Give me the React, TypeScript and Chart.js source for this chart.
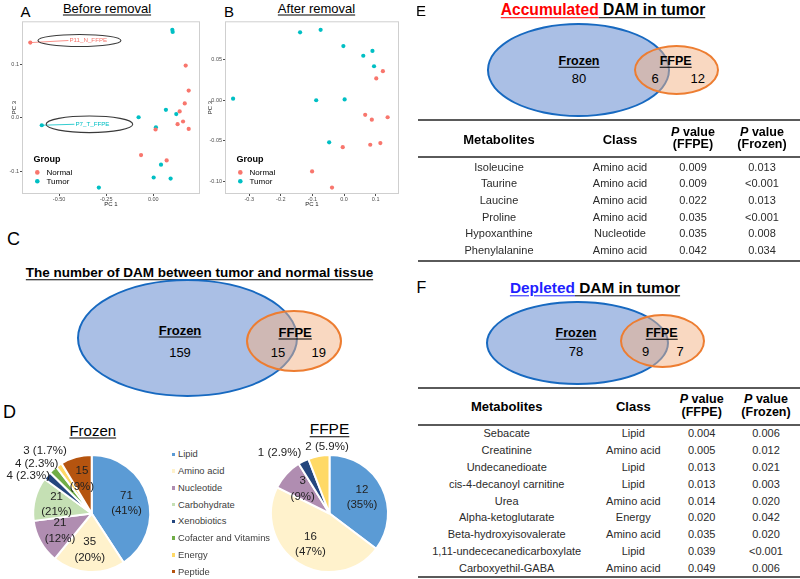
import React, { useEffect, useRef } from "react";
import { Chart, registerables } from "chart.js";
Chart.register(...registerables);

const FONT = '"Liberation Sans", Arial, Helvetica, sans-serif';

// ---------------- data ----------------
const groups = ["Normal", "Tumor"];
const groupColors = ["#F8766D", "#00BFC4"];

// A: before removal (PC1, PC3)
const beforeNormalPC1 = [-0.653, 0.172, 0.188, 0.167, 0.14, 0.158, 0.129, 0.188, 0.012, -0.065, 0.071];
const beforeNormalPC3 = [0.141, 0.098, 0.051, 0.027, 0.012, -0.007, -0.012, -0.021, -0.022, -0.07, -0.08];
const beforeTumorPC1 = [-0.592, 0.101, 0.103, 0.067, 0.122, -0.078, 0.014, 0.041, 0.002, 0.092, -0.289];
const beforeTumorPC3 = [-0.014, 0.165, 0.161, 0.015, 0.007, 0.001, -0.018, -0.088, -0.112, -0.114, -0.131];
const beforeXTicks = [-0.5, -0.25, 0.0];
const beforeYTicks = [-0.1, 0.0, 0.1];

// B: after removal (PC1, PC3)
const afterNormalPC1 = [0.123, 0.102, 0.067, 0.088, 0.138, -0.004, 0.083, 0.115, -0.101, -0.038];
const afterNormalPC3 = [0.036, 0.027, -0.018, -0.024, -0.021, -0.058, -0.055, -0.053, -0.088, -0.108];
const afterTumorPC1 = [-0.351, -0.139, -0.074, -0.002, 0.09, 0.061, 0.095, -0.088, 0.002, -0.047];
const afterTumorPC3 = [0.002, 0.084, 0.087, 0.067, 0.061, 0.055, 0.042, 0.0, 0.001, -0.052];
const afterXTicks = [-0.3, -0.2, -0.1, 0.0, 0.1];
const afterYTicks = [-0.1, -0.05, 0.0, 0.05];

// D: metabolite classes
const classes = ["Lipid", "Amino acid", "Nucleotide", "Carbohydrate", "Xenobiotics", "Cofacter and Vitamins", "Energy", "Peptide"];
const classColors = ["#5B9BD5", "#FFF2CC", "#B08DB1", "#C5E0B4", "#24467E", "#70AD47", "#FFD966", "#B5540F"];
const frozenCounts = [71, 35, 21, 21, 4, 4, 3, 15];
const frozenPct = ["41%", "20%", "12%", "21%", "2.3%", "2.3%", "1.7%", "9%"];
const ffpeCounts = [12, 16, 3, 0, 1, 0, 2, 0];
const ffpePct = ["35%", "47%", "9%", "", "2.9%", "", "5.9%", ""];

// Venn counts: [Frozen only, shared, FFPE only]
const vennAll = [159, 15, 19];
const vennUp = [80, 6, 12];
const vennDown = [78, 9, 7];

// E table
const accMetabolites = ["Isoleucine", "Taurine", "Laucine", "Proline", "Hypoxanthine", "Phenylalanine"];
const accClass = ["Amino acid", "Amino acid", "Amino acid", "Amino acid", "Nucleotide", "Amino acid"];
const accPFFPE = ["0.009", "0.009", "0.022", "0.035", "0.035", "0.042"];
const accPFrozen = ["0.013", "<0.001", "0.013", "<0.001", "0.008", "0.034"];

// F table
const depMetabolites = ["Sebacate", "Creatinine", "Undecanedioate", "cis-4-decanoyl carnitine", "Urea", "Alpha-ketoglutarate", "Beta-hydroxyisovalerate", "1,11-undececanedicarboxylate", "Carboxyethil-GABA"];
const depClass = ["Lipid", "Amino acid", "Lipid", "Lipid", "Amino acid", "Energy", "Amino acid", "Lipid", "Amino acid"];
const depPFFPE = ["0.004", "0.005", "0.013", "0.013", "0.014", "0.020", "0.035", "0.039", "0.049"];
const depPFrozen = ["0.006", "0.012", "0.021", "0.003", "0.020", "0.042", "0.020", "<0.001", "0.006"];

// ---------------- helpers ----------------
function T({ x, y, s, b, c, u, a = "c", children, st }: any) {
  const tx = a === "c" ? "-50%" : a === "r" ? "-100%" : "0";
  return (
    <div
      style={{
        position: "absolute",
        left: x,
        top: y,
        fontSize: s,
        lineHeight: 1,
        fontWeight: b ? "bold" : "normal",
        color: c || "#000",
        textDecoration: u ? "underline" : "none",
        textUnderlineOffset: u ? "2px" : undefined,
        transform: `translate(${tx},-50%)`,
        whiteSpace: "nowrap",
        ...st,
      }}
    >
      {children}
    </div>
  );
}

function Scatter(props: any) {
  const { left, top, width, height, axisW, padRight, xs, ys, xMin, xMax, yMin, yMax, xTicks, yTicks, xDec, yDec, yTitlePad, annotations } = props;
  const ref = useRef<HTMLCanvasElement>(null);
  useEffect(() => {
    const panelPlugin = {
      id: "panelDecor",
      beforeDatasetsDraw(chart: any) {
        const { ctx, chartArea: a } = chart;
        ctx.save();
        ctx.strokeStyle = "#cfcfcf";
        ctx.lineWidth = 1;
        ctx.strokeRect(a.left + 0.5, a.top + 0.5, a.right - a.left - 1, a.bottom - a.top - 1);
        ctx.restore();
      },
      afterDatasetsDraw(chart: any) {
        const { ctx, chartArea: a, scales } = chart;
        ctx.save();
        (annotations || []).forEach((an: any) => {
          const p = chart.getDatasetMeta(an.ds).data[an.idx];
          const ex = scales.x.getPixelForValue(an.x);
          const ey = scales.y.getPixelForValue(an.y);
          const tx = ex + an.dx;
          ctx.strokeStyle = groupColors[an.ds];
          ctx.lineWidth = 0.8;
          ctx.beginPath();
          ctx.moveTo(p.x, p.y);
          ctx.lineTo(tx - 1, ey);
          ctx.stroke();
          ctx.strokeStyle = "#3a3a3a";
          ctx.lineWidth = 1.1;
          ctx.beginPath();
          ctx.ellipse(ex, ey, an.rx, an.ry, 0, 0, Math.PI * 2);
          ctx.stroke();
          ctx.fillStyle = groupColors[an.ds];
          ctx.font = `6.2px ${FONT}`;
          ctx.textBaseline = "middle";
          ctx.textAlign = "left";
          ctx.fillText(an.text, tx, ey + 0.3);
        });
        // legend inside panel
        ctx.fillStyle = "#000";
        ctx.textBaseline = "middle";
        ctx.textAlign = "left";
        ctx.font = `bold 9px ${FONT}`;
        ctx.fillText("Group", a.left + 11.5, a.bottom - 34);
        chart.data.datasets.forEach((ds: any, i: number) => {
          const y = a.bottom - 21.6 + i * 8.8;
          ctx.fillStyle = ds.backgroundColor;
          ctx.beginPath();
          ctx.arc(a.left + 15.3, y, 2.3, 0, Math.PI * 2);
          ctx.fill();
          ctx.fillStyle = "#000";
          ctx.font = `8px ${FONT}`;
          ctx.fillText(ds.label, a.left + 24.5, y + 0.3);
        });
        ctx.restore();
      },
    };
    const tickFont = { size: 5.5, family: FONT };
    const chart = new Chart(ref.current as HTMLCanvasElement, {
      type: "scatter",
      data: {
        datasets: groups.map((g, i) => ({
          label: g,
          data: xs[i].map((x: number, j: number) => ({ x, y: ys[i][j] })),
          backgroundColor: groupColors[i],
          borderColor: groupColors[i],
          borderWidth: 0,
          pointRadius: 2.1,
          pointHoverRadius: 2.1,
        })),
      },
      options: {
        animation: false,
        responsive: false,
        maintainAspectRatio: false,
        layout: { padding: { top: 2, right: padRight, left: 0, bottom: 0 } },
        plugins: { legend: { display: false }, tooltip: { enabled: false } },
        scales: {
          x: {
            type: "linear",
            min: xMin,
            max: xMax,
            afterFit: (s: any) => {
              s.height = 18;
            },
            afterBuildTicks: (s: any) => {
              s.ticks = xTicks.map((v: number) => ({ value: v }));
            },
            ticks: {
              font: tickFont,
              color: "#4d4d4d",
              padding: 0,
              maxRotation: 0,
              autoSkip: false,
              callback: (v: any) => Number(v).toFixed(xDec),
            },
            grid: { drawOnChartArea: false, drawTicks: true, tickLength: 2, color: "#4d4d4d" },
            border: { display: false },
            title: { display: true, text: "PC 1", font: { size: 6, family: FONT }, color: "#1a1a1a", padding: { top: 0, bottom: 4.4 } },
          },
          y: {
            type: "linear",
            min: yMin,
            max: yMax,
            afterFit: (s: any) => {
              s.width = axisW;
            },
            afterBuildTicks: (s: any) => {
              s.ticks = yTicks.map((v: number) => ({ value: v }));
            },
            ticks: {
              font: tickFont,
              color: "#4d4d4d",
              padding: 1,
              autoSkip: false,
              callback: (v: any) => Number(v).toFixed(yDec),
            },
            grid: { drawOnChartArea: false, drawTicks: true, tickLength: 2, color: "#4d4d4d" },
            border: { display: false },
            title: { display: true, text: "PC 3", font: { size: 6, family: FONT }, color: "#1a1a1a", padding: { top: yTitlePad, bottom: 0 } },
          },
        },
      } as any,
      plugins: [panelPlugin],
    });
    return () => chart.destroy();
  }, []);
  return <canvas ref={ref} width={width} height={height} style={{ position: "absolute", left, top, width, height }} />;
}

function Pie(props: any) {
  const { left, top, width, height, cx, cy, r, counts, pcts } = props;
  const ref = useRef<HTMLCanvasElement>(null);
  useEffect(() => {
    const total = counts.reduce((s: number, v: number) => s + v, 0);
    const labelPlugin = {
      id: "pieLabels",
      afterDatasetsDraw(chart: any) {
        const { ctx } = chart;
        const meta = chart.getDatasetMeta(0);
        ctx.save();
        ctx.font = `11.5px ${FONT}`;
        ctx.fillStyle = "#222";
        ctx.textAlign = "center";
        ctx.textBaseline = "middle";
        const outer: any[] = [];
        meta.data.forEach((arc: any, i: number) => {
          const v = counts[i];
          if (!v) return;
          const p = arc.getProps(["x", "y", "startAngle", "endAngle", "outerRadius"], true);
          const mid = (p.startAngle + p.endAngle) / 2;
          const dx = Math.cos(mid);
          const dy = Math.sin(mid);
          if (v / total >= 0.07) {
            const R = p.outerRadius * 0.62;
            const x = p.x + dx * R;
            const y = p.y + dy * R;
            ctx.fillText(String(v), x, y - 7.8);
            ctx.fillText(`(${pcts[i]})`, x, y + 7.8);
          } else {
            const text = `${v} (${pcts[i]})`;
            const w = ctx.measureText(text).width;
            const h = 12;
            const R = p.outerRadius + 3;
            const ax = p.x + dx * R;
            const ay = p.y + dy * R;
            outer.push({ text, w, h, dy, cx: ax + (dx * w) / 2, cy: ay + (dy * h) / 2 });
          }
        });
        const horizontal = outer.length > 0 && outer.every((o) => o.dy < -0.85);
        for (let it = 0; it < 60; it++) {
          outer.sort((a, b) => (horizontal ? a.cx - b.cx : a.cy - b.cy));
          for (let k = 0; k + 1 < outer.length; k++) {
            const a = outer[k];
            const b = outer[k + 1];
            if (horizontal) {
              const ov = a.cx + a.w / 2 + 4 - (b.cx - b.w / 2);
              if (ov > 0) {
                a.cx -= ov / 2;
                b.cx += ov / 2;
              }
            } else {
              const need = 12.5;
              const gap = b.cy - a.cy;
              const xo = Math.abs(a.cx - b.cx) < (a.w + b.w) / 2;
              if (xo && gap < need) {
                a.cy -= (need - gap) / 2;
                b.cy += (need - gap) / 2;
              }
            }
          }
        }
        outer.forEach((o) => ctx.fillText(o.text, o.cx, o.cy));
        ctx.restore();
      },
    };
    const half = r + 1;
    const chart = new Chart(ref.current as HTMLCanvasElement, {
      type: "pie",
      data: {
        labels: classes,
        datasets: [
          {
            data: counts,
            backgroundColor: classColors,
            borderColor: "#ffffff",
            borderWidth: 2,
            hoverBorderWidth: 2,
            hoverOffset: 0,
            offset: 0,
          },
        ],
      },
      options: {
        animation: false,
        responsive: false,
        maintainAspectRatio: false,
        layout: {
          padding: { left: cx - half, right: width - (cx + half), top: cy - half, bottom: height - (cy + half) },
        },
        plugins: { legend: { display: false }, tooltip: { enabled: false } },
      } as any,
      plugins: [labelPlugin],
    });
    return () => chart.destroy();
  }, []);
  return <canvas ref={ref} width={width} height={height} style={{ position: "absolute", left, top, width, height }} />;
}

function Ellipse({ l, t, w, h, fill, stroke }: any) {
  return (
    <div
      style={{
        position: "absolute",
        left: l,
        top: t,
        width: w,
        height: h,
        boxSizing: "border-box",
        borderRadius: "50%",
        border: `2px solid ${stroke}`,
        background: fill,
      }}
    />
  );
}

const BLUE_FILL = "#AABFE5";
const BLUE_STROKE = "#1769C0";
const OR_FILL = "rgba(244,177,131,0.5)";
const OR_STROKE = "#ED7D31";

function Venn({ blue, orange, frozenPos, ffpePos, counts, numY, sharedX, ffpeOnlyX, ls, ns }: any) {
  return (
    <>
      <Ellipse {...blue} fill={BLUE_FILL} stroke={BLUE_STROKE} />
      <Ellipse {...orange} fill={OR_FILL} stroke={OR_STROKE} />
      <T x={frozenPos[0]} y={frozenPos[1]} s={ls} b u>
        Frozen
      </T>
      <T x={frozenPos[0]} y={numY} s={ns}>
        {counts[0]}
      </T>
      <T x={ffpePos[0]} y={ffpePos[1]} s={ls} b u>
        FFPE
      </T>
      <T x={sharedX} y={numY} s={ns}>
        {counts[1]}
      </T>
      <T x={ffpeOnlyX} y={numY} s={ns}>
        {counts[2]}
      </T>
    </>
  );
}

function PHead({ x, y, sub }: any) {
  return (
    <div
      style={{
        position: "absolute",
        left: x,
        top: y,
        transform: "translate(-50%,-50%)",
        textAlign: "center",
        fontSize: 12.5,
        lineHeight: "12.7px",
        fontWeight: "bold",
        whiteSpace: "nowrap",
      }}
    >
      <i>P</i> value
      <br />({sub})
    </div>
  );
}

function DataTable({ x0, x1, cols, topY, headY, headLineY, rowY0, rowH, bottomY, columns }: any) {
  const line = (y: number) => (
    <div style={{ position: "absolute", left: x0, top: y - 1, width: x1 - x0, height: 2, background: "#5a5a5a" }} />
  );
  return (
    <>
      {line(topY)}
      {line(headLineY)}
      {line(bottomY)}
      <T x={cols[0]} y={headY} s={13} b>
        Metabolites
      </T>
      <T x={cols[1]} y={headY} s={13} b>
        Class
      </T>
      <PHead x={cols[2]} y={headY} sub="FFPE" />
      <PHead x={cols[3]} y={headY} sub="Frozen" />
      {columns.map((col: string[], j: number) =>
        col.map((v: string, i: number) => (
          <T key={`${j}-${i}`} x={cols[j]} y={rowY0 + i * rowH} s={11} c="#2b2b2b">
            {v}
          </T>
        ))
      )}
    </>
  );
}

export default function App() {
  return (
    <div
      style={{
        position: "absolute",
        left: 0,
        top: 0,
        width: 800,
        height: 579,
        overflow: "hidden",
        background: "#fff",
        fontFamily: FONT,
        color: "#000",
      }}
    >
      {/* A */}
      <T x={20.5} y={11.2} s={15} a="l">A</T>
      <T x={107} y={8} s={13} u>Before removal</T>
      <Scatter
        left={0}
        top={17}
        width={205}
        height={195}
        axisW={22}
        padRight={5}
        xs={[beforeNormalPC1, beforeTumorPC1]}
        ys={[beforeNormalPC3, beforeTumorPC3]}
        xMin={-0.697}
        xMax={0.248}
        yMin={-0.143}
        yMax={0.181}
        xTicks={beforeXTicks}
        yTicks={beforeYTicks}
        xDec={2}
        yDec={1}
        yTitlePad={10.4}
        annotations={[
          { ds: 0, idx: 0, text: "P11_N_FFPE", x: -0.392, y: 0.145, rx: 41.5, ry: 6, dx: -10 },
          { ds: 1, idx: 0, text: "P7_T_FFPE", x: -0.339, y: -0.0122, rx: 43.3, ry: 8.3, dx: -14 },
        ]}
      />

      {/* B */}
      <T x={224} y={11.2} s={15} a="l">B</T>
      <T x={316.5} y={8} s={13} u>After removal</T>
      <Scatter
        left={200}
        top={17}
        width={205}
        height={195}
        axisW={25}
        padRight={6}
        xs={[afterNormalPC1, afterTumorPC1]}
        ys={[afterNormalPC3, afterTumorPC3]}
        xMin={-0.3766}
        xMax={0.174}
        yMin={-0.1159}
        yMax={0.0976}
        xTicks={afterXTicks}
        yTicks={afterYTicks}
        xDec={1}
        yDec={2}
        yTitlePad={6.4}
        annotations={[]}
      />

      {/* C */}
      <T x={7} y={238.5} s={18} a="l">C</T>
      <T x={199.5} y={272.5} s={13.5} b u>The number of DAM between tumor and normal tissue</T>
      <Venn
        blue={{ l: 77, t: 279, w: 221, h: 118 }}
        orange={{ l: 245.7, t: 310, w: 96, h: 62 }}
        frozenPos={[180, 330]}
        ffpePos={[295.2, 332]}
        counts={vennAll}
        numY={352}
        sharedX={278}
        ffpeOnlyX={318.8}
        ls={13}
        ns={13}
      />

      {/* D */}
      <T x={3} y={411.7} s={18} a="l">D</T>
      <T x={92.8} y={430} s={15} u>Frozen</T>
      <T x={329.5} y={428.5} s={15.5} u>FFPE</T>
      <Pie left={0} top={440} width={165} height={140} cx={91.7} cy={73.5} r={58.5} counts={frozenCounts} pcts={frozenPct} />
      <Pie left={255} top={440} width={145} height={140} cx={74.5} cy={73.5} r={58.5} counts={ffpeCounts} pcts={ffpePct} />
      {classes.map((c, i) => (
        <React.Fragment key={c}>
          <div
            style={{
              position: "absolute",
              left: 171.5,
              top: 454.3 + i * 16.77 - 1.75,
              width: 3.5,
              height: 3.5,
              background: classColors[i],
            }}
          />
          <T x={178} y={454.3 + i * 16.77} s={9.4} a="l" c="#404040">
            {c}
          </T>
        </React.Fragment>
      ))}

      {/* E */}
      <T x={416} y={9.5} s={15} a="l">E</T>
      <T x={603} y={9.5} s={15.6} b>
        <span style={{ color: "#FF0000", textDecoration: "underline", textUnderlineOffset: "2px" }}>Accumulated</span>
        <span style={{ textDecoration: "underline", textUnderlineOffset: "2px" }}> DAM in tumor</span>
      </T>
      <Venn
        blue={{ l: 487, t: 23.3, w: 183, h: 93.5 }}
        orange={{ l: 634, t: 45, w: 85.3, h: 50 }}
        frozenPos={[579, 60.5]}
        ffpePos={[675.7, 60.5]}
        counts={vennUp}
        numY={78.3}
        sharedX={655}
        ffpeOnlyX={697.7}
        ls={12.5}
        ns={13}
      />
      <DataTable
        x0={418}
        x1={800}
        cols={[499, 620, 693, 762]}
        topY={120}
        headY={138.6}
        headLineY={157.3}
        rowY0={166.7}
        rowH={16.66}
        bottomY={261}
        columns={[accMetabolites, accClass, accPFFPE, accPFrozen]}
      />

      {/* F */}
      <T x={416.5} y={287.5} s={16} a="l">F</T>
      <T x={595} y={287.5} s={15.4} b>
        <span style={{ color: "#1F1FFF", textDecoration: "underline", textUnderlineOffset: "2px" }}>Depleted</span>
        <span style={{ textDecoration: "underline", textUnderlineOffset: "2px" }}> DAM in tumor</span>
      </T>
      <Venn
        blue={{ l: 486, t: 301, w: 182.5, h: 84 }}
        orange={{ l: 620, t: 314, w: 85, h: 54 }}
        frozenPos={[576, 333.3]}
        ffpePos={[661.7, 333]}
        counts={vennDown}
        numY={351}
        sharedX={645.7}
        ffpeOnlyX={680}
        ls={12.5}
        ns={13}
      />
      <DataTable
        x0={418}
        x1={800}
        cols={[506.7, 633.3, 701.7, 766]}
        topY={388.3}
        headY={406}
        headLineY={425}
        rowY0={433.3}
        rowH={16.8}
        bottomY={577.3}
        columns={[depMetabolites, depClass, depPFFPE, depPFrozen]}
      />
    </div>
  );
}
